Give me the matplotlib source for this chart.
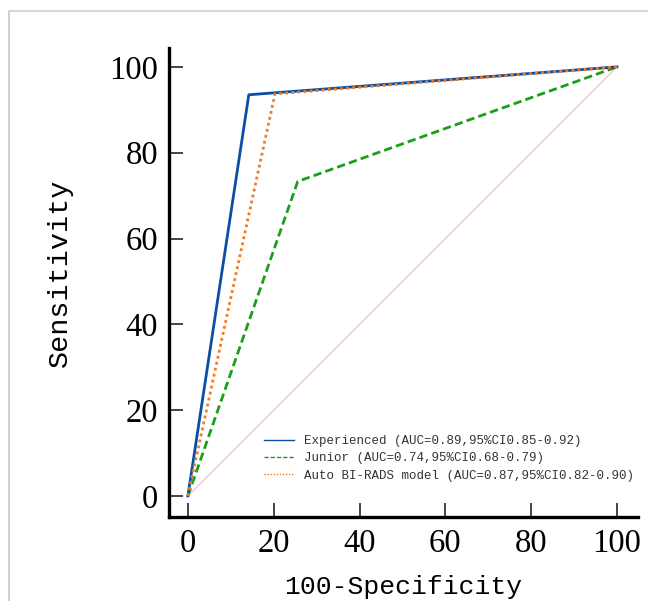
import matplotlib
matplotlib.use("Agg")
import matplotlib.pyplot as plt
from matplotlib.lines import Line2D

exp_x = [0, 14.2, 100]
exp_y = [0, 93.5, 100]
jun_x = [0, 25.6, 100]
jun_y = [0, 73.3, 100]
auto_x = [0, 20.3, 100]
auto_y = [0, 93.7, 100]
diag = [0, 100]
labels = ["Experienced (AUC=0.89,95%CI0.85-0.92)",
          "Junior (AUC=0.74,95%CI0.68-0.79)",
          "Auto BI-RADS model (AUC=0.87,95%CI0.82-0.90)"]
ticks = [0, 20, 40, 60, 80, 100]

fig = plt.figure(figsize=(6.48, 6.01), dpi=100)
ax = fig.add_axes([169/648, 1-517/601, (638-169)/648, (517-48)/601])

ax.plot(diag, diag, color="#f2b8b8", lw=0.8, zorder=1)
ax.plot(exp_x, exp_y, color="#0a4ea6", lw=2.0, label=labels[0], zorder=3)
ax.plot(jun_x, jun_y, color="#18a018", lw=2.0, ls=(0, (3, 1.5)), label=labels[1], zorder=2)
ax.plot(auto_x, auto_y, color="#f47a20", lw=2.0, ls=(0, (1, 1.2)), label=labels[2], zorder=4)

ax.set_xlim(-4.4, 104.9)
ax.set_ylim(-4.9, 104.4)
ax.set_xticks(ticks)
ax.set_yticks(ticks)
for s in ["top", "right"]:
    ax.spines[s].set_visible(False)
for s in ["left", "bottom"]:
    ax.spines[s].set_linewidth(2.4)
    ax.spines[s].set_color("black")
ax.tick_params(direction="in", length=10, width=1.4, color="#444444",
               labelsize=23.5, pad=8)
for lab in ax.get_xticklabels() + ax.get_yticklabels():
    lab.set_fontfamily("Liberation Serif")

ax.set_xlabel("100-Specificity", fontfamily="Liberation Mono", fontsize=19, labelpad=12)
ax.set_ylabel("Sensitivity", fontfamily="Liberation Mono", fontsize=20.5)
ax.yaxis.set_label_coords(-0.205, 0.52)

leg = ax.legend(loc="upper left", bbox_to_anchor=(264/648, 1-435/601),
                bbox_transform=fig.transFigure, frameon=False,
                prop={"family": "Liberation Mono", "size": 9},
                handlelength=2.4, handletextpad=0.8, labelspacing=0.42,
                borderpad=0, borderaxespad=0)
for t in leg.get_texts():
    t.set_color("#333333")
for h in leg.get_lines():
    h.set_linewidth(1.0)

fig.add_artist(Line2D([9/648, 9/648], [0, 1-11/601], transform=fig.transFigure,
                      color="#d0d0d0", lw=1.5))
fig.add_artist(Line2D([9/648, 1], [1-11/601, 1-11/601], transform=fig.transFigure,
                      color="#d8d8d8", lw=1.5))

fig.savefig("out.png", dpi=100)
